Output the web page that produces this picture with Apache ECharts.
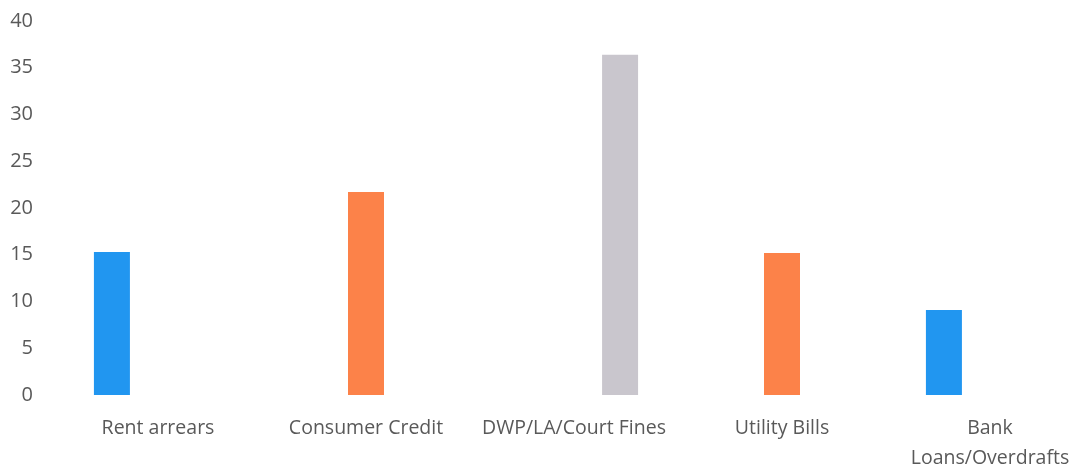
<!DOCTYPE html>
<html>
<head>
<meta charset="utf-8">
<script src="https://cdn.jsdelivr.net/npm/echarts@6/dist/echarts.min.js"></script>
<style>
  html, body { margin: 0; padding: 0; background: #fff; }
  #chart { width: 1075px; height: 470px; }
</style>
</head>
<body>
<div id="chart"></div>
<script>
// Debt categories and the share reported for each
const categories = ['Rent arrears', 'Consumer Credit', 'DWP/LA/Court Fines', 'Utility Bills', 'Bank\nLoans/Overdrafts'];
const blueValues   = [15.3, null, null, null, 9.1];
const orangeValues = [null, 21.7, null, 15.2, null];
const greyValues   = [null, null, 36.4, null, null];
const yTicks = [0, 5, 10, 15, 20, 25, 30, 35, 40];

const textFont = '"Open Sans", sans-serif';
const chart = echarts.init(document.getElementById('chart'));

chart.setOption({
  animation: false,
  backgroundColor: '#ffffff',
  grid: { left: 54, top: 21, width: 1040, height: 374, outerBoundsMode: 'none', containLabel: false },
  xAxis: {
    type: 'category',
    data: categories,
    axisLine: { show: false },
    axisTick: { show: false },
    axisLabel: {
      margin: 18,
      color: '#595959',
      fontFamily: textFont,
      fontSize: 19.5,
      lineHeight: 30,
      interval: 0
    }
  },
  yAxis: {
    type: 'value',
    min: yTicks[0],
    max: yTicks[yTicks.length - 1],
    interval: 5,
    splitLine: { show: false },
    axisLine: { show: false },
    axisTick: { show: false },
    axisLabel: {
      margin: 21,
      color: '#595959',
      fontFamily: textFont,
      fontSize: 20
    }
  },
  series: [
    { type: 'bar', data: blueValues, barWidth: 36, barGap: '28%', itemStyle: { color: '#2196f0' } },
    { type: 'bar', data: orangeValues, barWidth: 36, barGap: '28%', itemStyle: { color: '#fc8249' } },
    { type: 'bar', data: greyValues, barWidth: 36, barGap: '28%', itemStyle: { color: '#c9c6cd' } }
  ]
});
</script>
</body>
</html>
